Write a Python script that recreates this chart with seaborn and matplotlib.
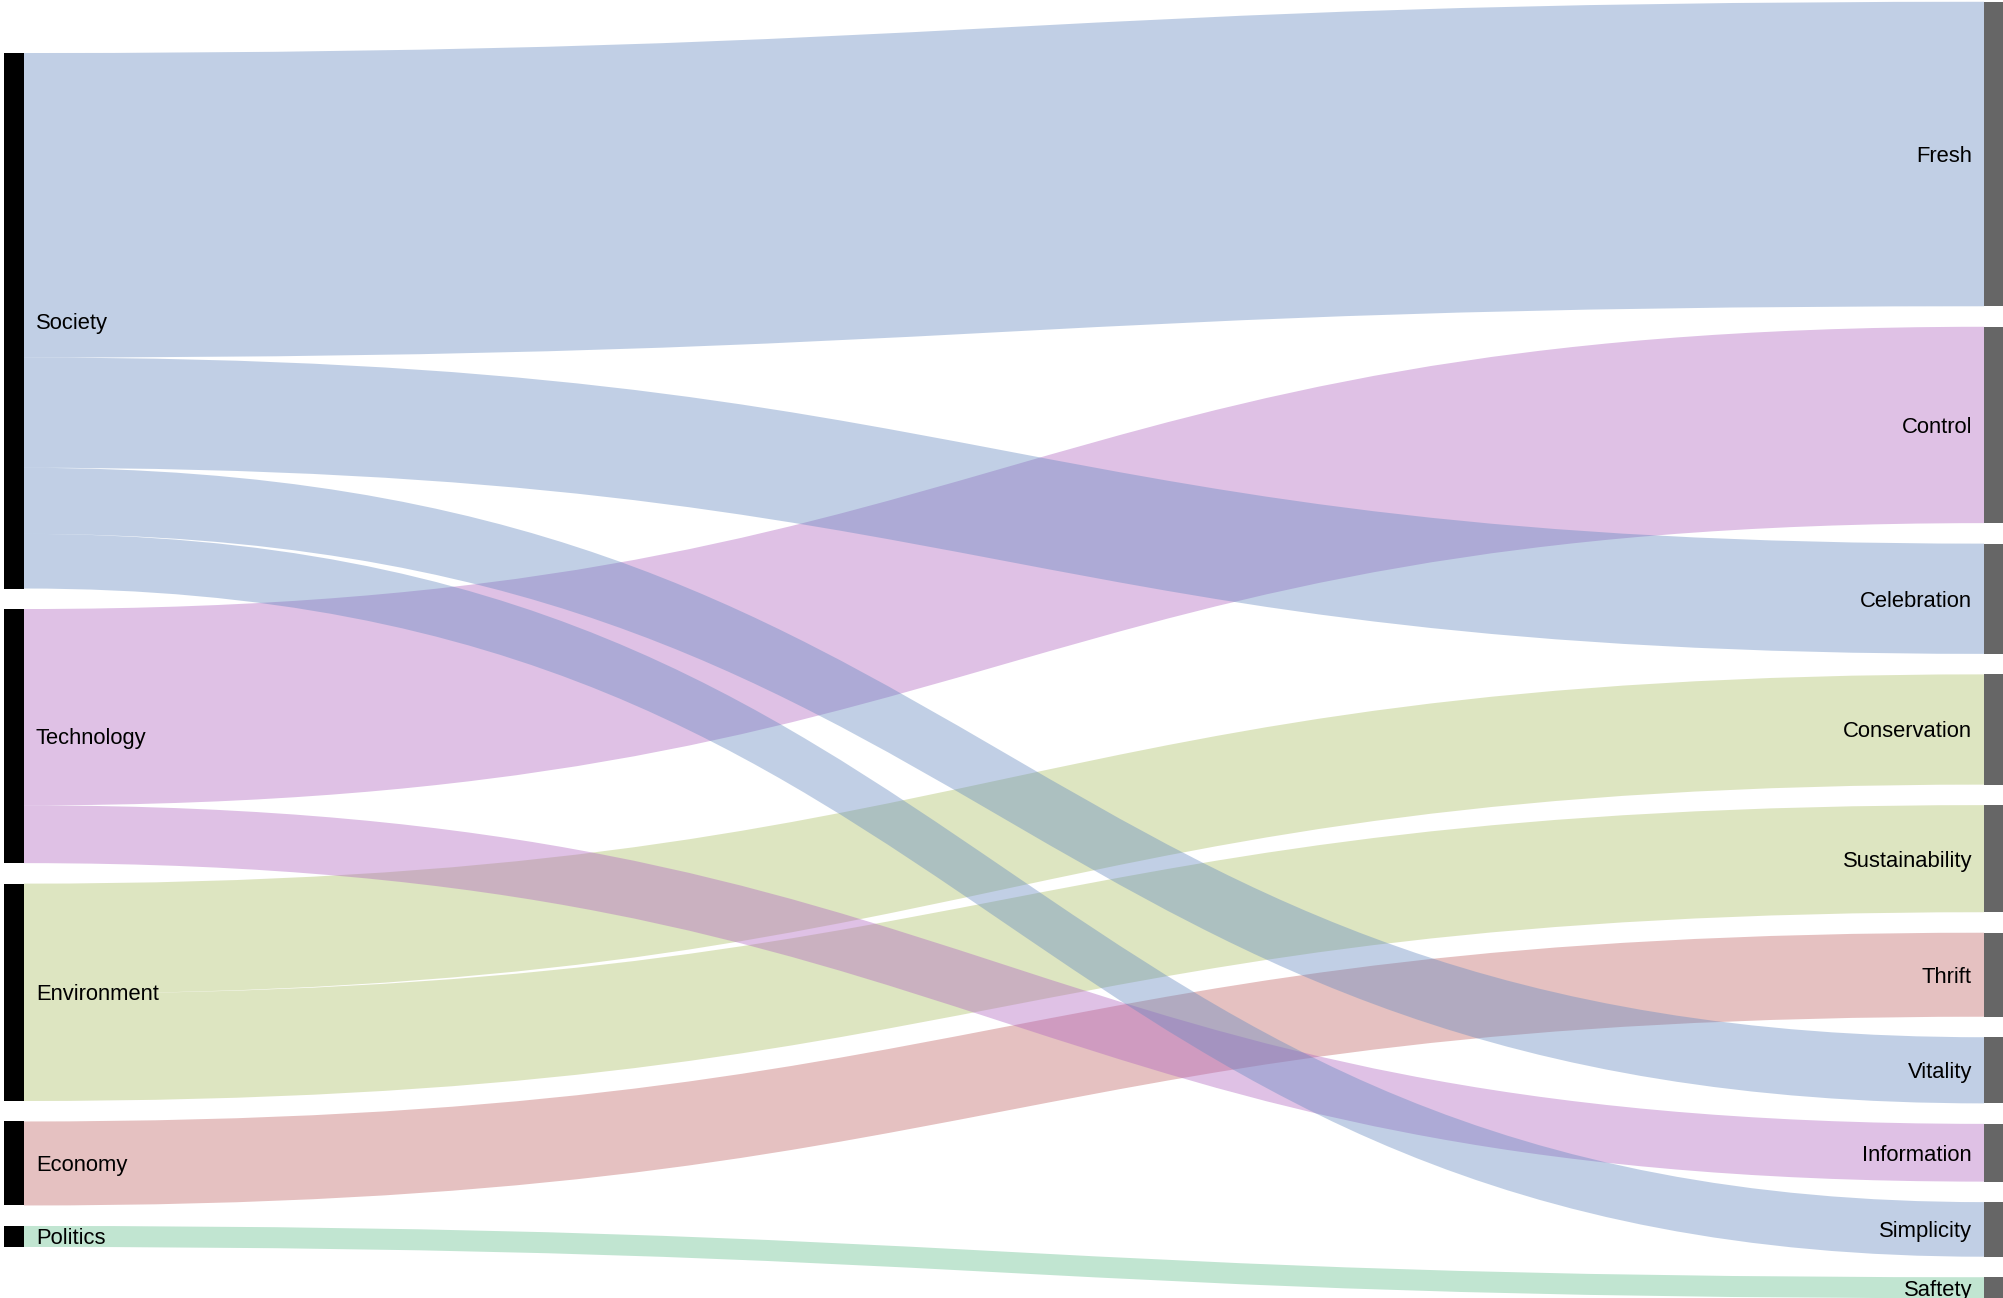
import matplotlib
matplotlib.use("Agg")
import matplotlib.pyplot as plt
from matplotlib.path import Path
from matplotlib.patches import PathPatch
import seaborn as sns

sns.set_theme(style="white")
plt.rcParams['font.family'] = ['Liberation Sans', 'DejaVu Sans']

# ---- data ----
sources = ["Society", "Technology", "Environment", "Economy", "Politics"]
targets = ["Fresh", "Control", "Celebration", "Conservation", "Sustainability",
           "Thrift", "Vitality", "Information", "Simplicity", "Saftety"]
link_source = ["Society", "Society", "Society", "Society",
               "Technology", "Technology",
               "Environment", "Environment",
               "Economy", "Politics"]
link_target = ["Fresh", "Celebration", "Vitality", "Simplicity",
               "Control", "Information",
               "Conservation", "Sustainability",
               "Thrift", "Saftety"]
link_value = [29, 10.5, 6.3, 5.2,
              18.7, 5.5,
              10.5, 10.2,
              8, 2]
source_colors = {
    "Society": (100/255, 137/255, 192/255),
    "Technology": (175/255, 100/255, 192/255),
    "Environment": (172/255, 190/255, 100/255),
    "Economy": (192/255, 100/255, 100/255),
    "Politics": (100/255, 190/255, 142/255),
}

# ---- layout ----
W, H = 2003, 1298
fig = plt.figure(figsize=(W / 100, H / 100), dpi=100)
ax = fig.add_axes([0, 0, 1, 1])
ax.set_xlim(0, W)
ax.set_ylim(H, 0)
ax.axis("off")

k = 10.5        # px per unit
gap = 20.5
node_w = 20
xl, xr = 4, 1984
cy = H / 2 + 1
fs = 22 * 72 / 100

def node_totals(names, key):
    tot = {n: 0.0 for n in names}
    for s, t, v in zip(link_source, link_target, link_value):
        tot[s if key == "s" else t] += v
    return tot

def layout(names, totals):
    total_h = sum(totals[n] for n in names) * k + gap * (len(names) - 1)
    y = cy - total_h / 2
    pos = {}
    for n in names:
        h = totals[n] * k
        pos[n] = (y, y + h)
        y += h + gap
    return pos

stot = node_totals(sources, "s")
ttot = node_totals(targets, "t")
spos = layout(sources, stot)
tpos = layout(targets, ttot)

# links
s_off = {n: spos[n][0] for n in sources}
t_off = {n: tpos[n][0] for n in targets}
order = sorted(range(len(link_value)),
               key=lambda i: (sources.index(link_source[i]), targets.index(link_target[i])))
x0, x1 = xl + node_w, xr
xm = (x0 + x1) / 2
n_links = len(link_value)
for rank, i in enumerate(order):
    s, t, v = link_source[i], link_target[i], link_value[i]
    h = v * k
    ys0, ys1 = s_off[s], s_off[s] + h
    yt0, yt1 = t_off[t], t_off[t] + h
    s_off[s] += h
    t_off[t] += h
    verts = [(x0, ys0), (xm, ys0), (xm, yt0), (x1, yt0),
             (x1, yt1), (xm, yt1), (xm, ys1), (x0, ys1), (x0, ys0)]
    codes = [Path.MOVETO, Path.CURVE4, Path.CURVE4, Path.CURVE4,
             Path.LINETO, Path.CURVE4, Path.CURVE4, Path.CURVE4, Path.CLOSEPOLY]
    # earlier sources are painted on top
    ax.add_patch(PathPatch(Path(verts, codes), facecolor=source_colors[s],
                           alpha=0.4, edgecolor="none", linewidth=0,
                           zorder=1 + (n_links - rank) * 0.01))

# nodes
for n in sources:
    y0, y1 = spos[n]
    ax.bar(xl, y1 - y0, bottom=y0, width=node_w, align="edge", color="black",
           linewidth=0, zorder=3)
    ax.text(xl + node_w + 12, (y0 + y1) / 2 + 7.9, n, ha="left", va="baseline",
            fontsize=fs, color="black", zorder=4)
for n in targets:
    y0, y1 = tpos[n]
    ax.bar(xr, y1 - y0, bottom=y0, width=node_w, align="edge", color="#666666",
           linewidth=0, zorder=3)
    ax.text(xr - 12, (y0 + y1) / 2 + 7.9, n, ha="right", va="baseline",
            fontsize=fs, color="black", zorder=4)

fig.savefig("out.png", dpi=100)
